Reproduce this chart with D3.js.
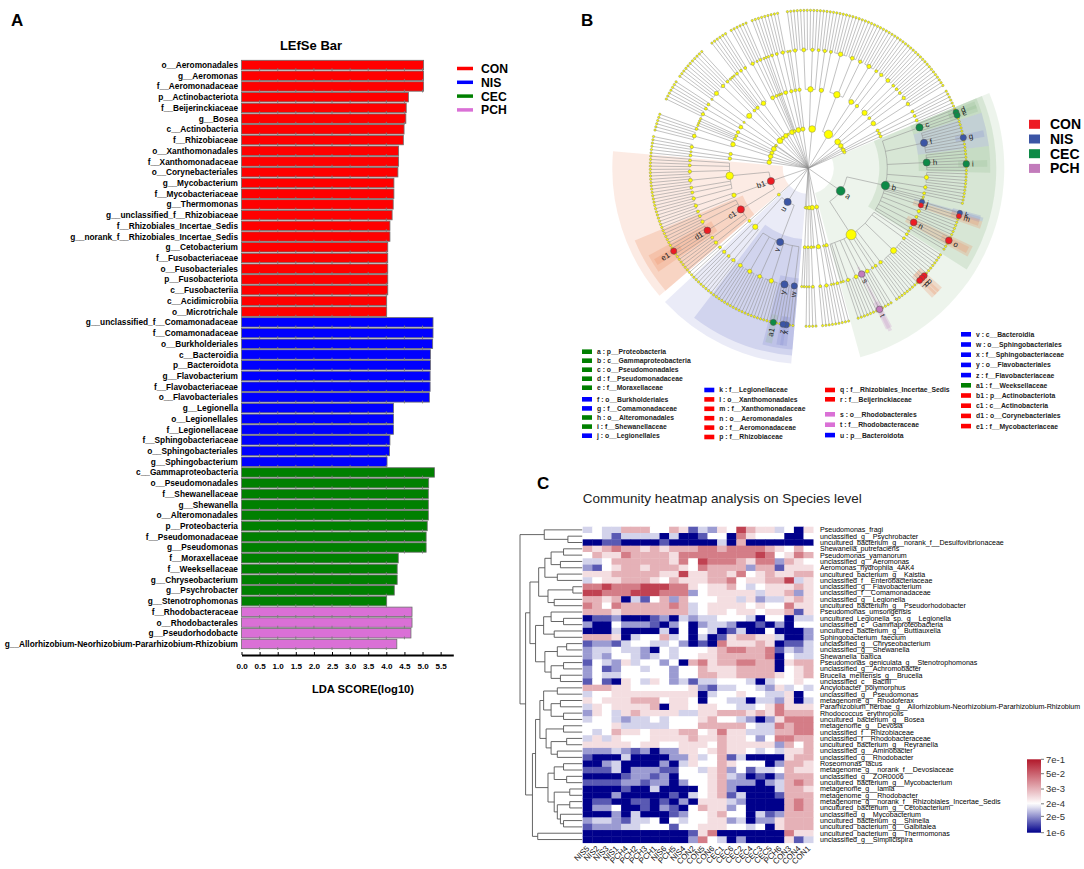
<!DOCTYPE html>
<html>
<head>
<meta charset="utf-8">
<script src="https://cdn.jsdelivr.net/npm/d3@7"></script>
<style>
  body { margin: 0; background: #fff; }
  svg { display: block; font-family: "Liberation Sans", Arial, sans-serif; }
</style>
</head>
<body>
<svg id="fig" width="1084" height="869"></svg>
<script>
// ---------- A : LEfSe bar ----------
const ldaTaxa = [
  "o__Aeromonadales","g__Aeromonas","f__Aeromonadaceae","p__Actinobacteriota","f__Beijerinckiaceae",
  "g__Bosea","c__Actinobacteria","f__Rhizobiaceae","o__Xanthomonadales","f__Xanthomonadaceae",
  "o__Corynebacteriales","g__Mycobacterium","f__Mycobacteriaceae","g__Thermomonas",
  "g__unclassified_f__Rhizobiaceae","f__Rhizobiales_Incertae_Sedis","g__norank_f__Rhizobiales_Incertae_Sedis",
  "g__Cetobacterium","f__Fusobacteriaceae","o__Fusobacteriales","p__Fusobacteriota","c__Fusobacteriia",
  "c__Acidimicrobiia","o__Microtrichale",
  "g__unclassified_f__Comamonadaceae","f__Comamonadaceae","o__Burkholderiales","c__Bacteroidia",
  "p__Bacteroidota","g__Flavobacterium","f__Flavobacteriaceae","o__Flavobacteriales","g__Legionella",
  "o__Legionellales","f__Legionellaceae","f__Sphingobacteriaceae","o__Sphingobacteriales","g__Sphingobacterium",
  "c__Gammaproteobacteria","o__Pseudomonadales","f__Shewanellaceae","g__Shewanella","o__Alteromonadales",
  "p__Proteobacteria","f__Pseudomonadaceae","g__Pseudomonas","f__Moraxellaceae","f__Weeksellaceae",
  "g__Chryseobacterium","g__Psychrobacter","g__Stenotrophomonas",
  "f__Rhodobacteraceae","o__Rhodobacterales","g__Pseudorhodobacte",
  "g__Allorhizobium-Neorhizobium-Pararhizobium-Rhizobium"
];
const ldaScore = [
  5.03,5.03,5.03,4.61,4.55,4.54,4.49,4.47,4.34,4.34,4.32,4.21,4.21,4.19,4.16,4.10,4.10,
  4.04,4.04,4.04,4.04,4.04,4.01,4.01,
  5.29,5.29,5.28,5.22,5.22,5.21,5.21,5.19,4.20,4.20,4.20,4.10,4.09,4.02,
  5.33,5.17,5.16,5.16,5.16,5.13,5.10,5.10,4.33,4.30,4.30,4.22,4.01,
  4.71,4.71,4.68,4.29
];
const ldaGroup = [
  "CON","CON","CON","CON","CON","CON","CON","CON","CON","CON","CON","CON",
  "CON","CON","CON","CON","CON","CON","CON","CON","CON","CON","CON","CON",
  "NIS","NIS","NIS","NIS","NIS","NIS","NIS","NIS","NIS","NIS","NIS","NIS","NIS","NIS",
  "CEC","CEC","CEC","CEC","CEC","CEC","CEC","CEC","CEC","CEC","CEC","CEC","CEC",
  "PCH","PCH","PCH","PCH"
];
const groups = ["CON", "NIS", "CEC", "PCH"];
const ldaTicks = [0, 0.5, 1, 1.5, 2, 2.5, 3, 3.5, 4, 4.5, 5, 5.5];

// ---------- B : cladogram ----------
// number n = node with n unnamed leaf children, array = node with those children,
// {id, k} = biomarker node
const cladePhyla = [
  {id: "a", k: [
    {id: "b", k: [
      {id: "c", k: [0, {id: "d", k: 0}, {id: "e", k: 0}, 0]},
      {id: "f", k: [0, 0, 0, 0, 0, {id: "g", k: 0}, 0, 0, 0]},
      {id: "h", k: [0, 0, 0, 0, {id: "i", k: 0}, 0, 0]},
      5, 3, 2, 0, 0,
      {id: "j", k: [{id: "k", k: 0}]},
      {id: "l", k: [{id: "m", k: 0}, 0]},
      3, 2,
      {id: "n", k: [0, {id: "o", k: 0}, 0]},
      2, 0]},
    [2, 2, [0, 0, 0, 0, {id: "p", k: 0}, {id: "q", k: 0}, {id: "r", k: 0}, 0, 0, 0, 0],
      3, 2, 0, 4, {id: "s", k: [{id: "t", k: 0}]}, 4, 3, 0, 0]
  ]},
  [[2, 1], [1]], [[3, 2], 0], [[2], [1, 1]], [2], 0,
  {id: "u", k: [
    {id: "v", k: [
      {id: "w", k: [0, 0, {id: "x", k: 0}]},
      {id: "y", k: [{id: "z", k: 0}, 0, 0, {id: "a1", k: 0}, 0]},
      6, 4, 5, 4]},
    [3, 2, 3]
  ]},
  [[2]],
  {id: "b1", k: [
    {id: "c1", k: [3, 2, {id: "d1", k: [0, 0, {id: "e1", k: 0}, 0, 0]}, 3, 2]},
    [2, 3],
    [3, 2, 2, 4, 3, 2, 2]
  ]},
  [[2, 1], [3]], 0, [[4, 2]], [2, 2], [[3], [2, 2]], 0, [[1]], [[5, 3], [2]], [3],
  [[2, 2, 2]], 0, [[3, 1], [2], 1], [[1], [1]], [[2, 2], [3]], [2, [3]],
  [[4, 3, 2], [3, 2]], [[6, 4, 3], [5, 2], [3]], [[4, 2, 2], [2]], [[3, 3]], 0, [[2], [2]], [[2]]
];
const biomarkerId = ["a","b","c","d","e","f","g","h","i","j","k","l","m","n","o","p","q","r",
  "s","t","u","v","w","x","y","z","a1","b1","c1","d1","e1"];
const biomarkerName = ["p__Proteobacteria","c__Gammaproteobacteria","o__Pseudomonadales",
  "f__Pseudomonadaceae","f__Moraxellaceae","o__Burkholderiales","f__Comamonadaceae","o__Alteromonadales",
  "f__Shewanellaceae","o__Legionellales","f__Legionellaceae","o__Xanthomonadales","f__Xanthomonadaceae",
  "o__Aeromonadales","f__Aeromonadaceae","f__Rhizobiaceae","f__Rhizobiales_Incertae_Sedis",
  "f__Beijerinckiaceae","o__Rhodobacterales","f__Rhodobacteraceae","p__Bacteroidota","c__Bacteroidia",
  "o__Sphingobacteriales","f__Sphingobacteriaceae","o__Flavobacteriales","f__Flavobacteriaceae",
  "f__Weeksellaceae","p__Actinobacteriota","c__Actinobacteria","o__Corynebacteriales","f__Mycobacteriaceae"];
const biomarkerGroup = ["CEC","CEC","CEC","CEC","CEC","NIS","NIS","CEC","CEC","NIS","NIS","CON","CON",
  "CON","CON","CON","CON","CON","PCH","PCH","NIS","NIS","NIS","NIS","NIS","NIS","CEC","CON","CON","CON","CON"];
const biomarkerSize = [4.4,4.2,3.6,3.0,3.0,3.6,3.1,3.6,3.3,2.6,2.6,2.6,2.6,3.4,3.4,3.0,3.0,3.0,
  3.3,3.3,3.6,3.6,3.1,3.1,3.6,3.1,3.1,3.6,3.6,3.4,3.1];

// ---------- C : heatmap ----------
const heatCols = ["NIS5","NIS2","NIS3","NIS1","PCH4","PCH2","PCH3","PCH1","NIS6","PCH5","NIS4","CON2",
  "CON5","CON6","CEC1","CEC6","CEC2","CEC4","CEC3","CEC5","PCH6","CON3","CON4","CON1"];
const heatRowNames = [
  "Pseudomonas_fragi","unclassified_g__Psychrobacter","uncultured_bacterium_g__norank_f__Desulfovibrionaceae",
  "Shewanella_putrefaciens","Pseudomonas_yamanorum","unclassified_g__Aeromonas","Aeromonas_hydrophila_4AK4",
  "uncultured_bacterium_g__Kaistia","unclassified_f__Enterobacteriaceae","unclassified_g__Flavobacterium",
  "unclassified_f__Comamonadaceae","unclassified_g__Legionella","uncultured_bacterium_g__Pseudorhodobacter",
  "Pseudomonas_umsongensis","uncultured_Legionella_sp._g__Legionella","unclassified_c__Gammaproteobacteria",
  "uncultured_bacterium_g__Buttiauxella","Sphingobacterium_faecium","unclassified_g__Chryseobacterium",
  "unclassified_g__Shewanella","Shewanella_baltica","Pseudomonas_geniculata_g__Stenotrophomonas",
  "unclassified_g__Achromobacter","Brucella_melitensis_g__Brucella","unclassified_c__Bacilli",
  "Ancylobacter_polymorphus","unclassified_g__Pseudomonas","metagenome_g__Rhodoferax",
  "Pararhizobium_herbae_g__Allorhizobium-Neorhizobium-Pararhizobium-Rhizobium","Rhodococcus_erythropolis",
  "uncultured_bacterium_g__Bosea","metagenome_g__Devosia","unclassified_f__Rhizobiaceae",
  "unclassified_f__Rhodobacteraceae","uncultured_bacterium_g__Reyranella","unclassified_g__Aminobacter",
  "unclassified_g__Rhodobacter","Roseomonas_lacus","metagenome_g__norank_f__Devosiaceae",
  "unclassified_g__ZOR0006","uncultured_bacterium_g__Mycobacterium","metagenome_g__Iamia",
  "metagenome_g__Rhodobacter","metagenome_g__norank_f__Rhizobiales_Incertae_Sedis",
  "uncultured_bacterium_g__Cetobacterium","unclassified_g__Mycobacterium","uncultured_bacterium_g__Shinella",
  "uncultured_bacterium_g__Galbitalea","uncultured_bacterium_g__Thermomonas","unclassified_g__Simplicispira"
];
// one digit per cell = abundance class, see heatLevelLog
const heatRows = [
  "343366644651325486553405","443133330300144075444004","001100001000003060000000",
  "656766565666776777765464","465576666577777777874576","334666666574877765772654",
  "214566566654766662661555","555666665585566574565566","345566654655566745566835",
  "778777888775455643455565","887778887772455555355625","665603146264445535233565",
  "764766666763455554544755","666566666663455455455615","011200012032334443044033",
  "200422210240233200102044","000300003040430130040002","666503446340301566553002",
  "122134433420107555650113","233433204344456776671323","232443234344556666670433",
  "143253442406756677660566","241244344244655566660456","243344444244665566665456",
  "141054354231334443034454","666554444445213344325343","344555555555034454433504",
  "545556664554044330332503","354555560554554433457555","254356555533556665657666",
  "344323343444564432025777","444533333444666664337677","434655455566457553336677",
  "353544455556556554247766","555554554455546555552646","222321202255456554343556",
  "100030000225346130000566","002300002035446544402665","111302221144356241334655",
  "000012212044456320102666","111122122024456222023676","000010030000456200003665",
  "000200000103456130001666","011001101020555320000676","022400102104655240000676",
  "000203000124456440312666","233213340434455230225666","122233444144555443405666",
  "000000000001570000000755","000000000002743020000513"
];
const heatLevelLog = [-6.2, -5.2, -4.6, -4.1, -3.7, -3.2, -2.5, -1.7, -0.8];
// row dendrogram: [height, left, right], numbers are row positions (1-based)
const rowTree = [1.0,
  [0.61, 1, [0.23, 2, 3]],
  [0.91,
    [0.84,
      [0.7,
        [0.6, [0.5, [0.3, 4, 5], [0.35, 6, 7]], [0.4, 8, 9]],
        [0.55, [0.15, 10, 11], [0.45, 12, 13]]],
      [0.75,
        [0.62, [0.5, 14, [0.3, 15, 16]], [0.45, 17, 18]],
        [0.6, [0.4, [0.25, 19, 20], 21], [0.5, [0.3, 22, 23], [0.35, 24, 25]]]]],
    [0.8,
      [0.75,
        [0.68,
          [0.62, [0.4, 26, 27], [0.5, [0.35, 28, 29], [0.3, 30, 31]]],
          [0.58, [0.3, 32, 33], [0.5, [0.25, 34, 35], [0.4, 36, 37]]]],
        [0.55,
          [0.45, [0.3, 38, 39], [0.25, 40, 41]],
          [0.45, [0.2, 42, 43], [0.4, [0.2, 44, 45], [0.35, 46, [0.3, 47, 48]]]]]],
      [0.715, 49, 50]]]
];
const legendTickLog = [-0.155, -1.301, -2.523, -3.699, -4.699, -6];
const legendTickText = ["7e-1", "5e-2", "3e-3", "2e-4", "2e-5", "1e-6"];

// ================= drawing =================
const svg = d3.select("#fig");
svg.append("rect").attr("width", 1084).attr("height", 869).attr("fill", "#fff");

// panel letters
svg.selectAll("text.panel")
  .data([["A", 11, 26], ["B", 581, 26], ["C", 537, 489]])
  .join("text")
  .attr("x", d => d[1]).attr("y", d => d[2])
  .attr("font-size", 17).attr("font-weight", "bold")
  .text(d => d[0]);

// ---------- A ----------
const barColor = {CON: "#ff0000", NIS: "#0000ff", CEC: "#008000", PCH: "#da70d6"};
const xA = d3.scaleLinear().domain([0, 5.85]).range([241.5, 453.3]);
const yA = d3.scaleBand().domain(d3.range(ldaTaxa.length)).range([60.3, 648.7]).paddingInner(0.12);
const gA = svg.append("g");

gA.selectAll("rect.bar").data(ldaScore)
  .join("rect")
  .attr("x", xA(0))
  .attr("y", (d, i) => yA(i))
  .attr("width", d => xA(d) - xA(0))
  .attr("height", yA.bandwidth())
  .attr("fill", (d, i) => barColor[ldaGroup[i]])
  .attr("stroke", "#6e6e6e").attr("stroke-width", 0.8);

// short grey grid marks in the gaps under each bar
const gridMarks = ldaScore.flatMap((v, i) => ldaTicks.filter(t => t > 0 && t < v).map(t => ({i, t})));
gA.selectAll("line.mark").data(gridMarks)
  .join("line")
  .attr("x1", d => xA(d.t)).attr("x2", d => xA(d.t))
  .attr("y1", d => yA(d.i) + yA.bandwidth() - 1.5)
  .attr("y2", d => yA(d.i) + yA.step())
  .attr("stroke", "#7a7a7a").attr("stroke-width", 0.9);

gA.selectAll("text.taxon").data(ldaTaxa)
  .join("text")
  .attr("x", 238)
  .attr("y", (d, i) => yA(i) + yA.bandwidth() / 2 + 3)
  .attr("text-anchor", "end")
  .attr("font-size", 8.3).attr("font-weight", "bold")
  .text(d => d);

const axA = gA.append("g").attr("transform", "translate(0,655)")
  .call(d3.axisBottom(xA).tickValues(ldaTicks).tickFormat(d3.format(".1f"))
    .tickSizeInner(-3).tickSizeOuter(0).tickPadding(8));
axA.select(".domain").attr("stroke", "#000").attr("stroke-width", 2);
axA.selectAll(".tick line").attr("stroke", "#000");
axA.selectAll(".tick text").attr("font-size", 8.1).attr("font-weight", "bold")
  .attr("font-family", "Liberation Sans, Arial, sans-serif").attr("fill", "#000");

gA.append("text").attr("x", 311).attr("y", 50).attr("text-anchor", "middle")
  .attr("font-size", 13).attr("font-weight", "bold").text("LEfSe Bar");
gA.append("text").attr("x", 363).attr("y", 692.5).attr("text-anchor", "middle")
  .attr("font-size", 11.2).attr("font-weight", "bold").text("LDA SCORE(log10)");

const legA = gA.selectAll("g.leg").data(groups).join("g")
  .attr("transform", (d, i) => `translate(457,${68.5 + i * 13.8})`);
legA.append("line").attr("x1", 0).attr("x2", 16)
  .attr("stroke", d => barColor[d]).attr("stroke-width", 3.5);
legA.append("text").attr("x", 24).attr("y", 4.4)
  .attr("font-size", 12.2).attr("font-weight", "bold").text(d => d);

// ---------- B ----------
const cladeColor = {CON: "#ed1c24", NIS: "#3b55a5", CEC: "#0d8a47", PCH: "#c27bbb"};
const shadeColor = {CON: "#ef8a5e", NIS: "#8389d0", CEC: "#94bd8f", PCH: "#c48ac4"};
const cx = 808.3, cy = 168.3;
const bioIndex = new Map(biomarkerId.map((id, i) => [id, i]));

function buildClade(spec) {
  if (typeof spec === "number") return {children: d3.range(spec).map(() => ({}))};
  if (Array.isArray(spec)) return {children: spec.map(buildClade)};
  const node = buildClade(spec.k);
  node.id = spec.id;
  return node;
}
const cladeRoot = d3.hierarchy({children: cladePhyla.map(buildClade)});
d3.cluster().size([360, 1]).separation(() => 1)(cladeRoot);
const nLeaves = cladeRoot.leaves().length;
const leafStep = 360 / nLeaves;
const angleOf = d => d.x - 22 - leafStep / 2;     // degrees, clockwise from east
const rB = d3.scaleLinear().domain([0, 4]).range([0, 158]);
const polar = (r, a) => [cx + r * Math.cos(a * Math.PI / 180), cy + r * Math.sin(a * Math.PI / 180)];
const gB = svg.append("g");

// shaded sectors behind biomarker clades
const outerByDepth = {1: 196, 2: 188, 3: 182, 4: 179};
const sigNodes = cladeRoot.descendants().filter(d => d.data.id)
  .sort((p, q) => p.depth - q.depth);
const sectorArc = d3.arc();
gB.selectAll("path.shade").data(sigNodes)
  .join("path")
  .attr("transform", `translate(${cx},${cy})`)
  .attr("d", d => {
    const ls = d.leaves().map(angleOf);
    const pad = d.children ? leafStep / 2 : leafStep * 0.9;
    return sectorArc({
      innerRadius: rB(d.depth) - (d.depth === 1 ? 14 : 8),
      outerRadius: outerByDepth[d.depth],
      startAngle: (d3.min(ls) - pad + 90) * Math.PI / 180,
      endAngle: (d3.max(ls) + pad + 90) * Math.PI / 180
    });
  })
  .attr("fill", d => shadeColor[biomarkerGroup[bioIndex.get(d.data.id)]])
  .attr("opacity", d => d.depth === 1 ? 0.17 : 0.24);

// branches: arc at parent radius, radial spokes to children
const branchPath = d3.path();
cladeRoot.each(d => {
  if (!d.children) return;
  const rp = rB(d.depth);
  const ca = d.children.map(angleOf);
  if (rp > 0 && d.children.length > 1) {
    const a0 = d3.min(ca), a1 = d3.max(ca);
    const s = polar(rp, a0);
    branchPath.moveTo(s[0], s[1]);
    branchPath.arc(cx, cy, rp, a0 * Math.PI / 180, a1 * Math.PI / 180);
  }
  d.children.forEach(c => {
    const p0 = polar(rp, angleOf(c)), p1 = polar(rB(c.depth), angleOf(c));
    branchPath.moveTo(p0[0], p0[1]);
    branchPath.lineTo(p1[0], p1[1]);
  });
});
gB.append("path").attr("d", branchPath.toString())
  .attr("fill", "none").attr("stroke", "#8f8f8f").attr("stroke-width", 0.55);

// nodes
const cladeNodes = cladeRoot.descendants().filter(d => d.depth > 0)
  .sort((p, q) => (p.data.id ? 1 : 0) - (q.data.id ? 1 : 0));
gB.selectAll("circle.node").data(cladeNodes)
  .join("circle")
  .attr("cx", d => polar(rB(d.depth), angleOf(d))[0])
  .attr("cy", d => polar(rB(d.depth), angleOf(d))[1])
  .attr("r", d => d.data.id ? biomarkerSize[bioIndex.get(d.data.id)]
    : Math.min(5.2, 0.35 + 0.8 * Math.sqrt(d.leaves().length)))
  .attr("fill", d => d.data.id ? cladeColor[biomarkerGroup[bioIndex.get(d.data.id)]] : "#ffff00")
  .attr("stroke", d => d.data.id ? "#555" : "#8d8d55")
  .attr("stroke-width", 0.5);

// letters next to biomarker nodes
gB.selectAll("text.lab").data(sigNodes)
  .join("text")
  .attr("transform", d => {
    const a = angleOf(d);
    const p = polar(rB(d.depth) + biomarkerSize[bioIndex.get(d.data.id)] + 2.5, a);
    const flip = ((a % 360) + 360) % 360 > 90 && ((a % 360) + 360) % 360 < 270;
    return `translate(${p[0]},${p[1]}) rotate(${flip ? a + 180 : a})`;
  })
  .attr("text-anchor", d => {
    const a = ((angleOf(d) % 360) + 360) % 360;
    return a > 90 && a < 270 ? "end" : "start";
  })
  .attr("dy", "0.35em")
  .attr("font-size", 7.8).attr("fill", "#222")
  .text(d => d.data.id);

// group legend (right)
const legB = gB.selectAll("g.legB").data(groups).join("g")
  .attr("transform", (d, i) => `translate(1029,${124.3 + i * 14.7})`);
legB.append("rect").attr("x", 0).attr("y", -4.5).attr("width", 11).attr("height", 9)
  .attr("fill", d => cladeColor[d]);
legB.append("text").attr("x", 21).attr("y", 5)
  .attr("font-size", 14).attr("font-weight", "bold").text(d => d);

// biomarker key (below)
const keyBlocks = [
  [["a", "b", "c", "d", "e"], 582, 351.7, 9.0],
  [["f", "g", "h", "i", "j"], 582, 399.3, 9.1],
  [["k", "l", "m", "n", "o", "p"], 704.3, 390, 9.4],
  [["q", "r"], 825, 390, 9.3],
  [["s", "t", "u"], 825, 414.3, 10.4],
  [["v", "w", "x", "y", "z", "a1", "b1", "c1", "d1", "e1"], 961, 334.3, 10.2]
];
keyBlocks.forEach(([ids, x0, y0, dy]) => {
  const g = gB.append("g");
  const rows = g.selectAll("g").data(ids).join("g")
    .attr("transform", (d, i) => `translate(${x0},${y0 + i * dy})`);
  rows.append("rect").attr("x", 0).attr("y", -2.3).attr("width", 10).attr("height", 4.6)
    .attr("fill", d => barColor[biomarkerGroup[bioIndex.get(d)]]);
  rows.append("text").attr("x", 15).attr("y", 2.4)
    .attr("font-size", 6.8).attr("font-weight", "bold").attr("fill", "#222")
    .text(d => `${d} : ${biomarkerName[bioIndex.get(d)]}`);
});

// ---------- C ----------
const gC = svg.append("g");
const xC = d3.scaleBand().domain(d3.range(heatCols.length)).range([582.7, 813.1]);
const yC = d3.scaleBand().domain(d3.range(heatRowNames.length)).range([526.7, 842.7]);
const heatColor = d3.scaleLinear().domain([-6, -3.7, -0.155])
  .range(["#00008b", "#ffffff", "#b2182b"]).clamp(true);

const cells = heatRows.flatMap((row, r) => row.split("").map((ch, c) => ({r, c, v: heatLevelLog[+ch]})));
gC.selectAll("rect.cell").data(cells)
  .join("rect")
  .attr("x", d => xC(d.c)).attr("y", d => yC(d.r))
  .attr("width", xC.bandwidth() + 0.4).attr("height", yC.bandwidth() + 0.4)
  .attr("fill", d => heatColor(d.v));

gC.selectAll("text.row").data(heatRowNames)
  .join("text")
  .attr("x", 820).attr("y", (d, i) => yC(i) + yC.bandwidth() / 2 + 2.4)
  .attr("font-size", 7.1).attr("fill", "#000")
  .text(d => d);

gC.selectAll("text.col").data(heatCols)
  .join("text")
  .attr("transform", (d, i) => `translate(${xC(i) + xC.bandwidth() / 2 + 2.5},849) rotate(-45)`)
  .attr("text-anchor", "end")
  .attr("font-size", 8).attr("fill", "#111")
  .text(d => d);

gC.append("text").attr("x", 582.7).attr("y", 503)
  .attr("font-size", 13.5).attr("fill", "#222")
  .text("Community heatmap analysis on Species level");

// row dendrogram
const treeRoot = d3.hierarchy(rowTree, d => Array.isArray(d) ? d.slice(1) : null);
const xD = d3.scaleLinear().domain([0, 1]).range([582.2, 520]);
treeRoot.eachAfter(d => {
  if (d.children) {
    d.py = d3.mean(d.children, c => c.py);
    d.px = xD(d.data[0]);
  } else {
    d.py = yC(d.data - 1) + yC.bandwidth() / 2;
    d.px = xD(0);
  }
});
const dendro = d3.path();
treeRoot.each(d => {
  if (!d.children) return;
  const ys = d.children.map(c => c.py);
  dendro.moveTo(d.px, d3.min(ys));
  dendro.lineTo(d.px, d3.max(ys));
  d.children.forEach(c => { dendro.moveTo(d.px, c.py); dendro.lineTo(c.px, c.py); });
});
gC.append("path").attr("d", dendro.toString())
  .attr("fill", "none").attr("stroke", "#555").attr("stroke-width", 0.9);

// colour key
const yKey = d3.scaleLinear().domain([-6, -0.155]).range([832.7, 759.3]);
const grad = svg.append("defs").append("linearGradient").attr("id", "heatKey")
  .attr("x1", 0).attr("y1", 1).attr("x2", 0).attr("y2", 0);
grad.selectAll("stop").data(d3.range(0, 1.0001, 0.05))
  .join("stop")
  .attr("offset", d => d)
  .attr("stop-color", d => heatColor(-6 + d * 5.845));
gC.append("rect").attr("x", 1027).attr("y", yKey(-0.155))
  .attr("width", 14).attr("height", yKey(-6) - yKey(-0.155))
  .attr("fill", "url(#heatKey)");
const keyTicks = gC.selectAll("g.kt").data(legendTickLog).join("g")
  .attr("transform", d => `translate(1041,${yKey(d)})`);
keyTicks.append("line").attr("x1", 0).attr("x2", 3).attr("stroke", "#555").attr("stroke-width", 0.8);
keyTicks.append("text").attr("x", 5).attr("y", 3.4)
  .attr("font-size", 9.5).attr("fill", "#333")
  .text((d, i) => legendTickText[i]);
</script>
</body>
</html>
